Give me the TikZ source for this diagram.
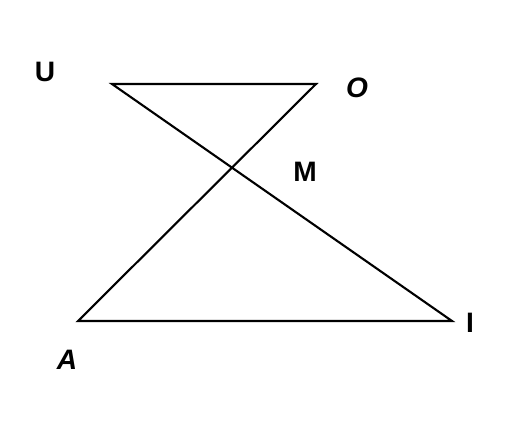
\documentclass[tikz,border=0pt]{standalone}
\usepackage{fontspec}
\setmainfont{Liberation Sans}
\usepackage{tikz}
\usetikzlibrary{calc}

\tikzset{
    edge/.style={line width=1.2pt, black},
    vlabel/.style={font=\fontsize{16}{18}\selectfont\bfseries, inner sep=0pt}
}

\begin{document}
\begin{tikzpicture}[x=0.02cm, y=-0.02cm]

        %% Frame
        \useasboundingbox (0,0) rectangle (520,420);

        %% Points
        \coordinate (U) at (112,84);
        \coordinate (O) at (316,84);
        \coordinate (A) at (78,321);
        \coordinate (I) at (452,321);

        %% Sides
        \draw [edge] (U) -- (O) -- (A) -- (I) -- cycle;

        %% Labels
        \node (labU) [vlabel] at (45,72) {U};
        \node (labO) [vlabel] at (357,88) {\itshape O};
        \node (labM) [vlabel] at (305,172) {M};
        \node (labI) [vlabel] at (470,323) {I};
        \node (labA) [vlabel] at (67,360) {\itshape A};

\end{tikzpicture}
\end{document}
